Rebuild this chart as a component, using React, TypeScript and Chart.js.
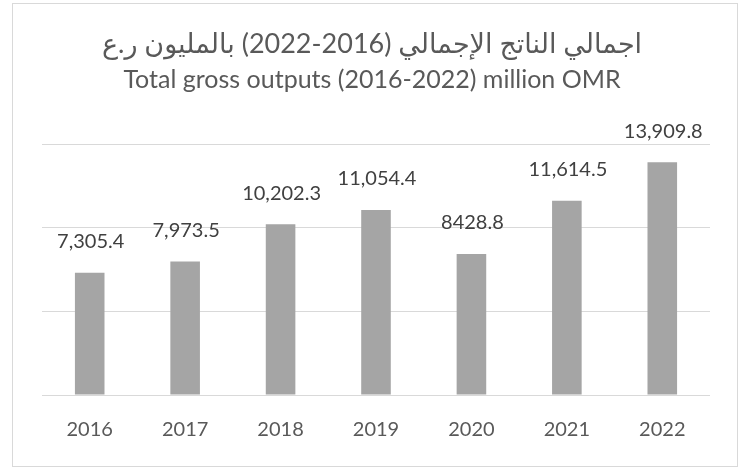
import React, { useEffect, useRef } from "react";
import { Chart, registerables } from "chart.js";

Chart.register(...registerables);

const categories = ["2016", "2017", "2018", "2019", "2020", "2021", "2022"];
const values = [7305.4, 7973.5, 10202.3, 11054.4, 8428.8, 11614.5, 13909.8];
const valueLabels = ["7,305.4", "7,973.5", "10,202.3", "11,054.4", "8428.8", "11,614.5", "13,909.8"];
const titleAr = "اجمالي الناتج الإجمالي (2016-2022) بالمليون ر.ع";
const titleEn = "Total gross outputs (2016-2022) million OMR";
const yMin = 0;
const yMax = 15000;
const yStep = 5000;

const FONT = "Lato, 'Noto Sans', 'DejaVu Sans', sans-serif";
const TEXT = "#595959";

const framePlugin = {
  id: "frame",
  beforeDraw(chart: any) {
    const ctx = chart.ctx;
    ctx.save();
    ctx.fillStyle = "#ffffff";
    ctx.fillRect(0, 0, chart.width, chart.height);
    ctx.strokeStyle = "#d9d9d9";
    ctx.lineWidth = 1;
    ctx.strokeRect(12.5, 3.5, 725, 463);
    ctx.restore();
  },
};

const titlePlugin = {
  id: "twoTitles",
  afterDraw(chart: any) {
    const ctx = chart.ctx;
    ctx.save();
    ctx.fillStyle = TEXT;
    ctx.textAlign = "center";
    ctx.textBaseline = "middle";
    ctx.font = `27px ${FONT}`;
    (ctx as any).direction = "rtl";
    ctx.fillText(titleAr, 372, 44);
    (ctx as any).direction = "ltr";
    ctx.font = `25px ${FONT}`;
    ctx.fillText(titleEn, 372, 80);
    ctx.restore();
  },
};

const labelPlugin = {
  id: "valueLabels",
  afterDatasetsDraw(chart: any) {
    const ctx = chart.ctx;
    const meta = chart.getDatasetMeta(0);
    ctx.save();
    ctx.fillStyle = "#404040";
    ctx.textAlign = "center";
    ctx.textBaseline = "middle";
    ctx.font = `20px ${FONT}`;
    meta.data.forEach((bar: any, i: number) => {
      ctx.fillText(valueLabels[i], bar.x + 1, bar.y - 31);
    });
    ctx.restore();
  },
};

export default function App() {
  const ref = useRef<HTMLCanvasElement | null>(null);
  useEffect(() => {
    if (!ref.current) return;
    const chart = new Chart(ref.current, {
      type: "bar",
      data: {
        labels: categories,
        datasets: [
          {
            data: values,
            backgroundColor: "#a5a5a5",
            borderWidth: 0,
            barPercentage: 0.31,
            categoryPercentage: 1,
          },
        ],
      },
      options: {
        animation: false,
        responsive: false,
        maintainAspectRatio: false,
        layout: { padding: { left: 42, right: 32, top: 144, bottom: 3 } },
        plugins: {
          legend: { display: false },
          tooltip: { enabled: false },
          title: { display: false },
        },
        scales: {
          x: {
            grid: { display: false, drawTicks: false },
            border: { display: false },
            ticks: {
              color: TEXT,
              font: { family: FONT, size: 20 },
              padding: 23,
              maxRotation: 0,
            },
          },
          y: {
            min: yMin,
            max: yMax,
            ticks: { display: false, stepSize: yStep },
            grid: { color: "#d9d9d9", lineWidth: 1, drawTicks: false },
            border: { display: false },
          },
        },
      },
      plugins: [framePlugin, titlePlugin, labelPlugin],
    });
    return () => chart.destroy();
  }, []);
  return (
    <div style={{ position: "fixed", left: 0, top: 0, width: 742, height: 468 }}>
      <canvas ref={ref} width={742} height={468} style={{ display: "block", width: 742, height: 468 }} />
    </div>
  );
}
